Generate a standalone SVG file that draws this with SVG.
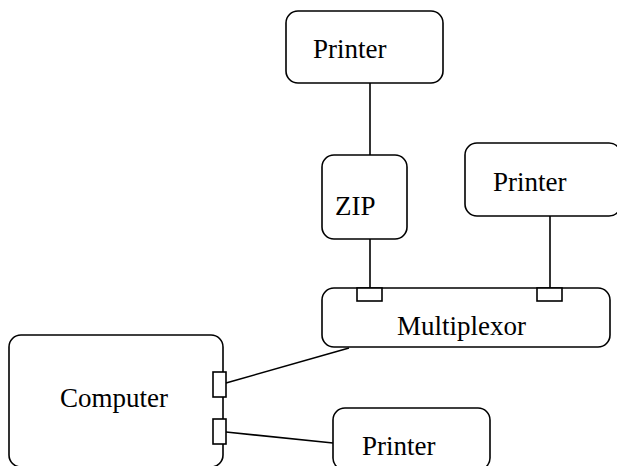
<svg xmlns="http://www.w3.org/2000/svg" width="617" height="466" viewBox="0 0 617 466">
<style>
.box{fill:#fff;stroke:#000;stroke-width:1.6}
.port{fill:#fff;stroke:#000;stroke-width:1.6}
.lbl{font-family:"Liberation Serif",serif;font-size:27px;fill:#000}
.conn line{stroke:#000;stroke-width:1.6}
</style>
<rect width="617" height="466" fill="#fff"/>
<g id="connectors" class="conn">
<line x1="370" y1="83" x2="370" y2="155"/>
<line x1="370" y1="239" x2="370" y2="288"/>
<line x1="550" y1="216" x2="550" y2="288"/>
<line x1="226" y1="383" x2="349" y2="348"/>
<line x1="226" y1="432" x2="333" y2="443"/>
</g>
<g id="printer-top">
<rect class="box" x="286" y="11" width="157" height="72" rx="12"/>
<text class="lbl" x="313" y="58">Printer</text>
</g>
<g id="zip">
<rect class="box" x="322" y="155" width="85" height="84" rx="12"/>
<text class="lbl" x="335" y="215">ZIP</text>
</g>
<g id="printer-right">
<rect class="box" x="465" y="143" width="156" height="73" rx="12"/>
<text class="lbl" x="493" y="191">Printer</text>
</g>
<g id="multiplexor">
<rect class="box" x="322" y="288" width="288" height="59" rx="12"/>
<rect class="port" x="357" y="288" width="25" height="13"/>
<rect class="port" x="537" y="288" width="25" height="13"/>
<text class="lbl" x="397" y="335">Multiplexor</text>
</g>
<g id="computer">
<rect class="box" x="9" y="335" width="214" height="132" rx="12"/>
<rect class="port" x="213" y="372" width="13" height="25"/>
<rect class="port" x="213" y="419" width="13" height="25"/>
<text class="lbl" x="60" y="407">Computer</text>
</g>
<g id="printer-bottom">
<rect class="box" x="333" y="408" width="157" height="62" rx="12"/>
<text class="lbl" x="362" y="455">Printer</text>
</g>
</svg>
